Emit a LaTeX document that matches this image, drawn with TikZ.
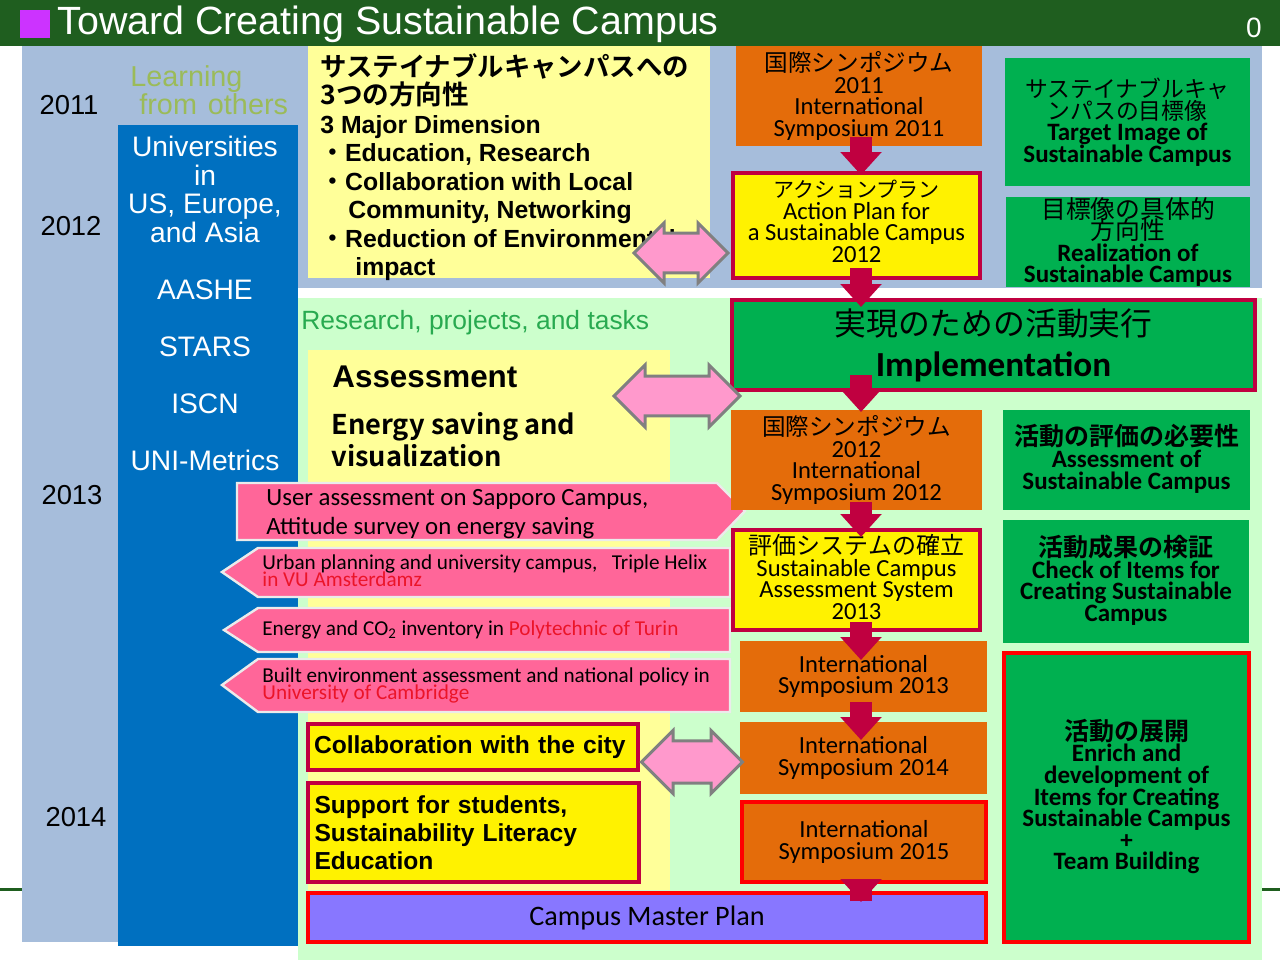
\documentclass[tikz,border=0pt]{standalone}
\usepackage{fontspec}
\setmainfont{Carlito}
\newfontfamily\arialfont{Liberation Sans}
\newfontfamily\jpfont{Noto Sans CJK JP}[BoldFont={Noto Sans CJK JP Bold}]
\usetikzlibrary{shapes.arrows,arrows.meta}
\lineskiplimit=-\maxdimen
\newcommand\jptext[2]{{\jpfont\fontsize{#1}{#1}\selectfont #2}}
\newcommand\jpmd[2]{{\jpfont\mdseries\fontsize{#1}{#1}\selectfont #2}}
\definecolor{barGreen}{RGB}{31,94,31}
\definecolor{tagMag}{RGB}{204,51,255}
\definecolor{paleBlue}{RGB}{166,189,219}
\definecolor{colBlue}{RGB}{0,112,192}
\definecolor{paleYellow}{RGB}{255,255,153}
\definecolor{paleGreen}{RGB}{204,255,204}
\definecolor{symOrange}{RGB}{228,108,10}
\definecolor{goalGreen}{RGB}{0,176,80}
\definecolor{crimson}{RGB}{192,0,64}
\definecolor{bandPink}{RGB}{255,102,153}
\definecolor{lrPink}{RGB}{255,153,204}
\definecolor{planPurple}{RGB}{136,119,255}
\definecolor{learnGreen}{RGB}{155,187,89}
\definecolor{resGreen}{RGB}{40,170,80}
\definecolor{uniRed}{RGB}{235,20,40}
\begin{document}
\begin{tikzpicture}[x=0.5pt,y=-0.5pt,
  tbox/.style={inner sep=0pt, outer sep=0pt, align=center},
  symbox/.style={tbox, fill=symOrange, font=\fontsize{12.3}{10.7}\selectfont},
  goalbox/.style={tbox, fill=goalGreen, font=\bfseries\fontsize{12.5}{10.8}\selectfont},
  planbox/.style={tbox, fill=yellow, draw=crimson, line width=2.2pt, font=\fontsize{12.3}{10.7}\selectfont},
  citybox/.style={tbox, fill=yellow, draw=crimson, line width=2.2pt, align=left, text width=159pt, font=\arialfont\bfseries\fontsize{12.3}{14}\selectfont},
  band/.style={fill=bandPink, draw=black!8, line width=1.2pt},
  bandtext/.style={inner sep=0pt, align=left, anchor=west},
  lrarrow/.style={double arrow, fill=lrPink, draw=black!50, line width=1.5pt, inner xsep=0pt, inner ysep=#1, double arrow head extend=4pt},
  downarr/.style={draw=crimson, line width=11pt, -{Triangle[width=20pt,length=11.5pt]}},
  year/.style={font=\arialfont\fontsize{13.7}{14}\selectfont, inner sep=0pt}]
\useasboundingbox (0,0) rectangle (1280,960);
% background panels
\draw[barGreen, line width=1.5pt] (0,889) -- (1280,889);
\fill[paleBlue] (22,46) rectangle (1262,288);
\fill[paleBlue] (22,288) rectangle (118,942);
\fill[paleGreen] (298,298) rectangle (1262,960);
\fill[colBlue] (118,125) rectangle (298,946);
\fill[paleYellow] (308,46) rectangle (710,278);
\fill[paleYellow] (308,350) rectangle (670,890);
% title bar
\fill[barGreen] (0,0) rectangle (1280,46);
\fill[tagMag] (20,10) rectangle (50,38);
\node[anchor=west, text=white, inner sep=0pt, font=\arialfont\fontsize{19.7}{20}\selectfont] (title) at (57,24) {Toward Creating Sustainable Campus};
\node[text=white, inner sep=0pt, font=\arialfont\fontsize{14}{14}\selectfont] (pageno) at (1254,28) {0};
% years and left column
\node[year] (y2011) at (69,105) {2011};
\node[year] (y2012) at (71,226) {2012};
\node[year] (y2013) at (72,495) {2013};
\node[year] (y2014) at (76,817) {2014};
\node[anchor=north west, align=left, inner sep=0pt, text=learnGreen, font=\arialfont\fontsize{14.4}{14}\selectfont] (learn) at (130,65) {Learning\\\hspace{4.5pt}from\hspace{5.5pt}others};
\node[anchor=north, align=center, inner sep=0pt, text=white, font=\arialfont\fontsize{14.1}{14.25}\selectfont] (unis) at (205,136) {Universities\\in\\US, Europe,\\and Asia\\[14.25pt]AASHE\\[14.25pt]STARS\\[14.25pt]ISCN\\[14.25pt]UNI-Metrics};
% three dimensions
\node[anchor=north west, align=left, inner sep=0pt, font=\arialfont\bfseries\fontsize{12.4}{14.25}\selectfont] (dims) at (320,53) {\jptext{13.2}{サステイナブルキャンパスへの}\\\jptext{13.3}{3つの方向性}\\3 Major Dimension\\{\jpfont ・}Education, Research\\{\jpfont ・}Collaboration with Local\\\hspace{14pt}Community, Networking\\{\jpfont ・}Reduction of Environmental\\\hspace{17.5pt}impact};
\node[anchor=west, inner sep=0pt, text=resGreen, font=\arialfont\fontsize{13.2}{14}\selectfont] (tasks) at (301,323) {Research, projects, and tasks};
\node[anchor=west, inner sep=0pt, font=\arialfont\bfseries\fontsize{15.7}{16}\selectfont] (assess) at (332,377) {Assessment};
\node[anchor=west, align=left, inner sep=0pt, font=\jpfont\bfseries\fontsize{13.6}{16}\selectfont] (energy) at (331,440) {Energy saving and\\visualization};
% pink bands
\draw[band] (237,483) -- (717,483) -- (745,511) -- (717,540) -- (237,540) -- cycle;
\draw[band] (258,548) -- (730,548) -- (730,597) -- (258,597) -- (222,572) -- cycle;
\draw[band] (258,608) -- (730,608) -- (730,652) -- (258,652) -- (224,630) -- cycle;
\draw[band] (258,659) -- (730,659) -- (730,712) -- (258,712) -- (222,685) -- cycle;
\node[bandtext, font=\fontsize{12.4}{14.5}\selectfont] (sapporo) at (266,514) {User assessment on Sapporo Campus,\\Attitude survey on energy saving};
\node[bandtext, font=\fontsize{10.6}{8.5}\selectfont] (vu) at (262,571) {Urban planning and university campus,\ \ \ Triple Helix\\\textcolor{uniRed}{in VU Amsterdamz}};
\node[bandtext, font=\fontsize{10.6}{8.5}\selectfont] (turin) at (262,630) {Energy and CO\textsubscript{2} inventory in \textcolor{uniRed}{Polytechnic of Turin}};
\node[bandtext, font=\fontsize{10.6}{8.5}\selectfont] (cam) at (262,685) {Built environment assessment and national policy in\\\textcolor{uniRed}{University of Cambridge}};
% centre column
\node[symbox, minimum width=123pt, minimum height=50pt] (or1) at (859,96) {\jptext{11.8}{国際シンポジウム}\\2011\\International\\Symposium 2011};
\node[planbox, minimum width=123.5pt, minimum height=52.5pt] (ap) at (856.5,225.5) {\jptext{10.5}{アクションプラン}\\Action Plan for\\a Sustainable Campus\\2012\\[-6.5pt]};
\node[tbox, fill=goalGreen, draw=crimson, line width=2.2pt, font=\bfseries\fontsize{17.6}{20.5}\selectfont, minimum width=261.5pt, minimum height=45pt] (impl) at (993.5,345) {\jpmd{15.9}{実現のための活動実行}\\Implementation};
\node[symbox, minimum width=125.5pt, minimum height=50pt] (or2) at (856.5,460) {\jptext{11.8}{国際シンポジウム}\\2012\\International\\Symposium 2012};
\node[planbox, minimum width=123.5pt, minimum height=50pt] (asys) at (856.5,580) {\jptext{12}{評価システムの確立}\\Sustainable Campus\\Assessment System\\2013\\[-7.6pt]};
\node[symbox, minimum width=123.5pt, minimum height=35.5pt] (or3) at (863.5,676.5) {International\\Symposium 2013};
\node[symbox, minimum width=123.5pt, minimum height=36pt] (or4) at (863.5,758) {International\\Symposium 2014};
\node[symbox, draw=red, line width=2.2pt, minimum width=122pt, minimum height=40pt] (or5) at (864,842) {International\\Symposium 2015};
\node[tbox, fill=planPurple, draw=red, line width=2.2pt, font=\fontsize{14.1}{14}\selectfont, minimum width=339pt, minimum height=24.5pt] (mplan) at (647,917.5) {Campus Master Plan};
\node[citybox, minimum width=165pt, minimum height=23pt] (city) at (473,747) {Collaboration with the city};
\node[citybox, minimum width=165.5pt, minimum height=49.5pt] (support) at (473.5,832.5) {Support for students,\\Sustainability Literacy\\Education};
% right column
\node[goalbox, minimum width=122.5pt, minimum height=64pt] (target) at (1127.5,122) {\jpmd{11.4}{サステイナブルキャ}\\\jpmd{11.4}{ンパスの目標像}\\Target Image of\\Sustainable Campus};
\node[goalbox, minimum width=122pt, minimum height=44pt] (real) at (1128,242) {\jpmd{12.4}{目標像の具体的}\\\jpmd{12.4}{方向性}\\Realization of\\Sustainable Campus};
\node[goalbox, minimum width=123.5pt, minimum height=50pt] (need) at (1126.5,460) {\jptext{12.5}{活動の評価の必要性}\\Assessment of\\Sustainable Campus\\[-7.7pt]};
\node[goalbox, minimum width=123pt, minimum height=61.5pt] (check) at (1126,581.5) {\jptext{12.5}{活動成果の検証}\\Check of Items for\\Creating Sustainable\\Campus\\[-7.7pt]};
\node[goalbox, draw=red, line width=2.2pt, minimum width=122.5pt, minimum height=144.5pt] (enrich) at (1126.5,797.5) {\jptext{12.5}{活動の展開}\\Enrich and\\development of\\Items for Creating\\Sustainable Campus\\+\\Team Building\\[-7.7pt]};
% two-way arrows
\node[lrarrow=7pt, minimum height=47pt, minimum width=30pt] (lr1) at (681,253) {};
\node[lrarrow=6.5pt, minimum height=63pt, minimum width=31pt] (lr2) at (677,396) {};
\node[lrarrow=7.5pt, minimum height=50.5pt, minimum width=31.5pt] (lr3) at (692,762) {};
% flow arrows
\coordinate (ax) at (861,0);
\draw[downarr, shorten <=-4.5pt, shorten >=-1pt] (or1.south -| ax) -- (ap.north -| ax);
\draw[downarr, shorten <=-5pt, shorten >=-3.5pt] (ap.south -| ax) -- (impl.north -| ax);
\draw[downarr, shorten <=-7.5pt, shorten >=-1pt] (impl.south -| ax) -- (or2.north -| ax);
\draw[downarr, shorten <=-4pt, shorten >=-3.5pt] (or2.south -| ax) -- (asys.north -| ax);
\draw[downarr, shorten <=-4pt, shorten >=-9.5pt] (asys.south -| ax) -- (or3.north -| ax);
\draw[downarr, shorten <=-5pt, shorten >=-9pt] (or3.south -| ax) -- (or4.north -| ax);
\draw[downarr, shorten <=-9.5pt, shorten >=-4.5pt] (or5.south -| ax) -- (mplan.north -| ax);
\end{tikzpicture}
\end{document}
